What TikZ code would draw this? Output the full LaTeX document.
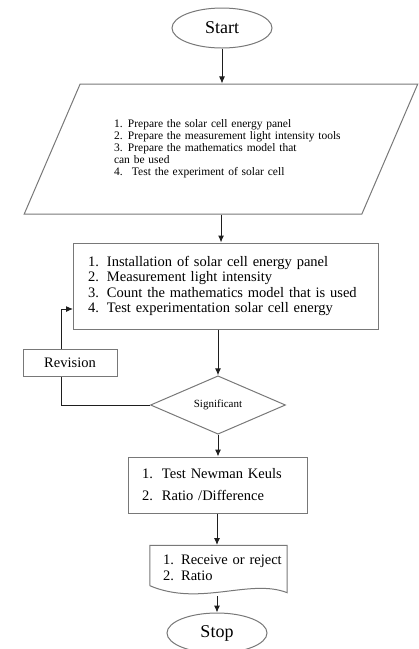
\documentclass[tikz,border=0pt]{standalone}
\usepackage{fontspec}
\setmainfont{Liberation Serif}
\usetikzlibrary{arrows.meta,shapes.geometric}
\definecolor{EdgeGray}{RGB}{120,120,120}
\definecolor{InkBlack}{RGB}{30,30,30}
\newcommand{\itemno}[2][19pt]{\makebox[#1][l]{#2}}
\tikzset{
  terminal/.style={ellipse,draw=EdgeGray,line width=1pt,minimum width=100pt,
    minimum height=40pt,inner sep=0pt,font=\fontsize{18}{20}\selectfont},
  io/.style={trapezium,trapezium left angle=54,trapezium right angle=126,
    trapezium stretches=true,draw=EdgeGray,line width=1pt,minimum width=394pt,
    minimum height=130pt,text width=214pt,align=left,inner sep=0pt,
    font=\fontsize{11.5}{12}\selectfont},
  process/.style={rectangle,draw=EdgeGray,line width=1pt,align=left,inner sep=0pt,
    font=\fontsize{14.5}{15.3}\selectfont},
  decision/.style={diamond,draw=EdgeGray,line width=1pt,minimum width=135pt,
    minimum height=40pt,inner sep=0pt,font=\fontsize{11}{12}\selectfont},
  docbox/.style={rectangle,align=left,inner sep=0pt,
    font=\fontsize{14.5}{16}\selectfont},
  arrow/.style={-{Latex[length=7pt,width=6pt]},line width=1pt,InkBlack},
  link/.style={line width=1pt,InkBlack}
}
\begin{document}
\begin{tikzpicture}[x=1pt,y=-1pt]
  \useasboundingbox (0,0) rectangle (419,649);
  \node[terminal] (start) at (222,28) {Start};
  \node[io] (prepare) at (221,149) {%
    \mbox{\itemno[14pt]{1.}Prepare the solar cell energy panel}\\
    \mbox{\itemno[14pt]{2.}Prepare the measurement light intensity tools}\\
    \mbox{\itemno[14pt]{3.}Prepare the mathematics model that}\\
    \mbox{can be used}\\
    \mbox{\itemno[18pt]{4.}Test the experiment of solar cell}};
  \node[process,minimum width=305pt,minimum height=86pt,text width=275pt]
    (experiment) at (225.5,286) {%
    \itemno{1.}Installation of solar cell energy panel\\
    \itemno{2.}Measurement light intensity\\
    \itemno{3.}Count the mathematics model that is used\\
    \itemno{4.}Test experimentation solar cell energy};
  \node[process,minimum width=94pt,minimum height=27pt,align=center]
    (revision) at (70,362.5) {Revision};
  \node[decision] (significant) at (218,405) {Significant};
  \node[process,minimum width=179pt,minimum height=56pt,text width=151pt,
    font=\fontsize{14.5}{22}\selectfont] (newman) at (217.5,485) {%
    \itemno[20pt]{1.}Test Newman Keuls\\
    \itemno[20pt]{2.}Ratio /Difference};
  \node[docbox,minimum width=137pt,minimum height=45pt,text width=111pt]
    (result) at (218.5,568) {\mbox{1. Receive or reject}\\\mbox{2. Ratio}};
  \node[terminal] (stop) at (217,633) {Stop};
  % document outline with wavy bottom
  \draw[EdgeGray,line width=1pt] ([yshift=5pt]result.south west) -- (result.north west)
    -- (result.north east) -- ([yshift=-2pt]result.south east)
    .. controls (250,578) and (200,607) .. ([yshift=5pt]result.south west);
  % main flow
  \draw[arrow] (start.south) -- (start.south |- prepare.north);
  \draw[arrow] (prepare.south) -- (prepare.south |- experiment.north);
  \draw[arrow] (experiment.south -| significant) -- (significant.north);
  \draw[arrow] (significant.south) -- (significant.south |- newman.north);
  \draw[arrow] (newman.south -| 217,0) -- (217,545);
  \draw[arrow] (217,596) -- (stop.north);
  % revision loop
  \coordinate (turn) at (61,405);
  \coordinate (entry) at (73,309);
  \draw[link] (significant.west) -- (turn) -- (turn |- revision.south);
  \draw[arrow] (turn |- revision.north) -- (turn |- entry) -- (entry);
\end{tikzpicture}
\end{document}
